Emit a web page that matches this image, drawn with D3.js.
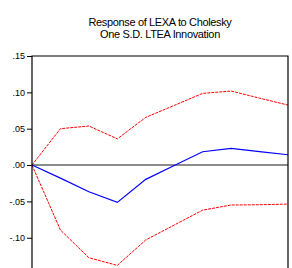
<!DOCTYPE html>
<html>
<head>
<meta charset="utf-8">
<script src="https://cdn.jsdelivr.net/npm/d3@7"></script>
<style>
  body { margin: 0; background: #fff; }
  svg { display: block; font-family: "Liberation Sans", Arial, sans-serif; }
</style>
</head>
<body>
<div class="chart"></div>
<script>
(function () {
    // impulse response periods
    const periods = [1, 2, 3, 4, 5, 6, 7, 8, 9, 10];
    const response = [0, -0.018, -0.0367, -0.0514, -0.0197, -0.0005, 0.0183, 0.023, 0.0185, 0.0142];
    const upperBand = [0, 0.050, 0.0537, 0.036, 0.0656, 0.082, 0.0986, 0.1018, 0.092, 0.0825];
    const lowerBand = [0, -0.0894, -0.1275, -0.138, -0.103, -0.0825, -0.062, -0.055, -0.0546, -0.0537];
    const yTicks = [0.15, 0.10, 0.05, 0.00, -0.05, -0.10];
    const titleLines = ['Response of LEXA to Cholesky', 'One S.D. LTEA Innovation'];

    const width = 292, height = 268;
    const plot = { left: 32, right: 288, top: 56 };

    const svg = d3.select('.chart').append('svg')
        .attr('width', width)
        .attr('height', height);

    const x = d3.scaleLinear().domain([1, 10]).range([plot.left, plot.right]);
    // the picture is cropped at the bottom, frame runs past the window
    const y = d3.scaleLinear().domain([-0.2, 0.15]).range([plot.top + 0.35 * 727, plot.top]);

    // title
    svg.append('g')
        .selectAll('text')
        .data(titleLines)
        .join('text')
        .attr('x', 160)
        .attr('y', (d, i) => 26 + i * 12)
        .attr('text-anchor', 'middle')
        .attr('font-size', 11)
        .attr('letter-spacing', -0.35)
        .attr('fill', '#000')
        .text(d => d);

    // y axis with outer ticks
    const fmt = d => (d < 0 ? '-' : '') + d3.format('.2f')(Math.abs(d)).replace(/^0/, '');
    const yAxis = svg.append('g')
        .attr('transform', `translate(${plot.left},0)`)
        .call(d3.axisLeft(y).tickValues(yTicks).tickFormat(fmt).tickSize(5).tickPadding(2));
    yAxis.select('.domain').remove();
    yAxis.selectAll('text')
        .attr('font-size', 9)
        .attr('font-family', '"Liberation Sans", Arial, sans-serif')
        .attr('fill', '#000');
    yAxis.selectAll('line').attr('stroke', '#000');

    // zero line
    svg.append('line')
        .attr('x1', plot.left).attr('x2', plot.right)
        .attr('y1', y(0)).attr('y2', y(0))
        .attr('stroke', '#666')
        .attr('stroke-width', 1.5);

    const line = d3.line()
        .x((d, i) => x(periods[i]))
        .y(d => y(d));

    [upperBand, lowerBand].forEach(band => {
        svg.append('path')
            .datum(band)
            .attr('d', line)
            .attr('fill', 'none')
            .attr('stroke', '#ff0000')
            .attr('stroke-width', 1)
            .attr('stroke-dasharray', '3,1');
    });

    svg.append('path')
        .datum(response)
        .attr('d', line)
        .attr('fill', 'none')
        .attr('stroke', '#0000ff')
        .attr('stroke-width', 1.2);

    // frame
    svg.append('path')
        .attr('d', `M${plot.left},${height + 20}V${plot.top}H${plot.right}V${height + 20}`)
        .attr('fill', 'none')
        .attr('stroke', '#000')
        .attr('stroke-width', 1.2);
})();
</script>
</body>
</html>
